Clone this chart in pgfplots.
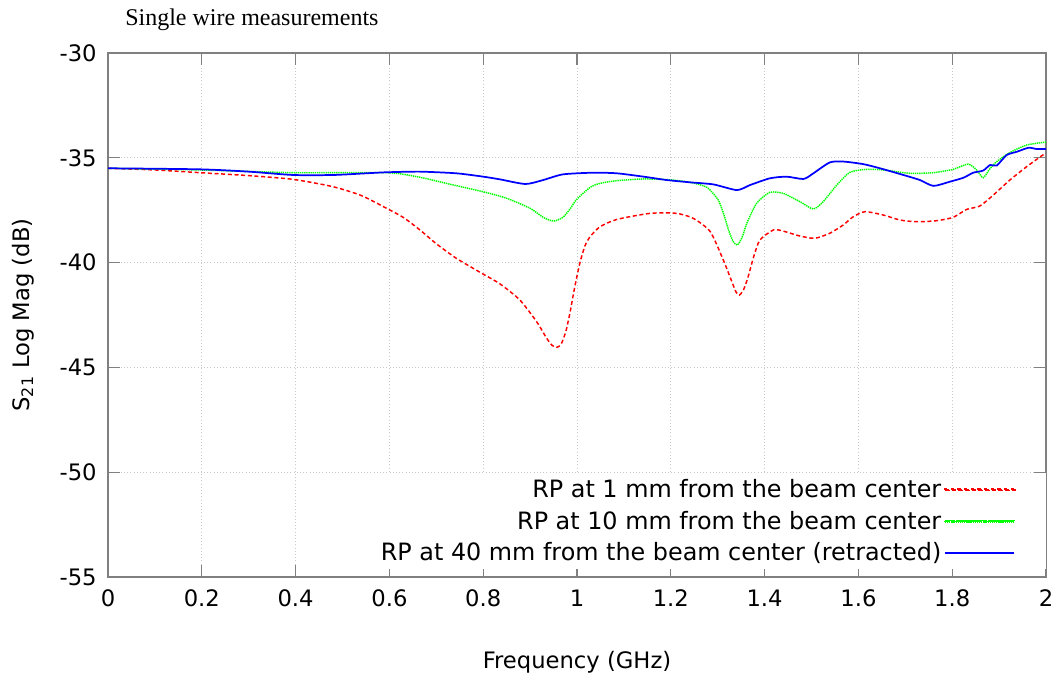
\documentclass[border=0pt]{standalone}
\usepackage{fontspec}
\setmainfont{DejaVu Sans}
\newfontfamily\titlefont{Liberation Serif}
\usepackage{pgfplots}
\pgfplotsset{compat=1.18}

\pgfplotstableread{
x y
0 -35.5
0.1 -35.58
0.196 -35.71
0.3 -35.85
0.395 -36.03
0.48 -36.38
0.54 -36.8
0.594 -37.41
0.63 -37.85
0.665 -38.44
0.7 -39.1
0.743 -39.8
0.797 -40.51
0.836 -41.02
0.878 -41.78
0.914 -42.82
0.935 -43.6
0.947 -43.95
0.957 -44.04
0.966 -43.9
0.976 -43.3
0.985 -42.4
0.994 -41.3
1.006 -40.03
1.017 -39.2
1.028 -38.76
1.049 -38.29
1.085 -37.94
1.156 -37.65
1.212 -37.65
1.248 -37.89
1.284 -38.52
1.312 -39.88
1.33 -40.9
1.339 -41.4
1.346 -41.55
1.355 -41.3
1.365 -40.67
1.377 -39.7
1.39 -38.92
1.419 -38.44
1.44 -38.5
1.475 -38.73
1.507 -38.84
1.539 -38.6
1.568 -38.2
1.589 -37.81
1.614 -37.57
1.653 -37.73
1.689 -37.97
1.724 -38.05
1.767 -38.0
1.802 -37.84
1.831 -37.46
1.859 -37.3
1.888 -36.77
1.923 -36.06
1.959 -35.42
1.993 -34.87
2 -34.8
}\redtab

\pgfplotstableread{
x y
0 -35.5
0.196 -35.58
0.395 -35.71
0.594 -35.71
0.665 -35.93
0.729 -36.26
0.8 -36.62
0.85 -36.93
0.9 -37.41
0.928 -37.84
0.95 -38.02
0.97 -37.84
0.985 -37.45
0.999 -36.99
1.028 -36.41
1.049 -36.22
1.085 -36.09
1.142 -36.01
1.198 -36.05
1.241 -36.17
1.277 -36.41
1.301 -37.01
1.313 -37.7
1.323 -38.44
1.333 -39.0
1.342 -39.16
1.352 -38.8
1.362 -38.13
1.383 -37.17
1.411 -36.65
1.44 -36.7
1.475 -37.09
1.504 -37.44
1.525 -37.09
1.554 -36.3
1.582 -35.69
1.618 -35.55
1.653 -35.58
1.71 -35.74
1.76 -35.71
1.802 -35.55
1.834 -35.3
1.852 -35.58
1.866 -35.95
1.881 -35.5
1.895 -35.18
1.923 -34.75
1.959 -34.39
2 -34.25
}\greentab

\pgfplotstableread{
x y
0 -35.5
0.196 -35.55
0.3 -35.66
0.395 -35.82
0.48 -35.82
0.55 -35.74
0.594 -35.69
0.665 -35.66
0.743 -35.74
0.8 -35.9
0.836 -36.03
0.89 -36.25
0.928 -36.06
0.97 -35.79
1.035 -35.71
1.085 -35.74
1.142 -35.9
1.191 -36.06
1.241 -36.17
1.291 -36.27
1.341 -36.54
1.369 -36.3
1.411 -35.98
1.447 -35.9
1.483 -36.01
1.504 -35.74
1.539 -35.22
1.568 -35.18
1.61 -35.3
1.646 -35.5
1.696 -35.82
1.731 -36.06
1.76 -36.34
1.795 -36.14
1.824 -35.95
1.845 -35.71
1.866 -35.61
1.881 -35.34
1.895 -35.37
1.916 -34.87
1.938 -34.71
1.963 -34.52
1.98 -34.58
2 -34.58
}\bluetab

\definecolor{framegray}{RGB}{128,128,128}
\definecolor{gridgray}{RGB}{200,200,200}
\definecolor{cred}{RGB}{255,0,0}
\definecolor{cgreen}{RGB}{0,255,0}
\definecolor{cblue}{RGB}{0,0,255}

\begin{document}
\begin{tikzpicture}
\useasboundingbox (0,0) rectangle (795pt,509.25pt);
\node[anchor=base west, font=\titlefont\fontsize{18}{21}\selectfont, inner sep=0pt] at (93.75pt,490pt) {Single wire measurements};
\begin{axis}[
  at={(81pt,76.5pt)}, anchor=south west,
  scale only axis, width=703.5pt, height=393pt,
  xmin=0, xmax=2, ymin=-55, ymax=-30,
  xtick={0,0.2,...,2.01}, ytick={-55,-50,...,-30},
  xticklabels={0,0.2,0.4,0.6,0.8,1,1.2,1.4,1.6,1.8,2},
  /pgf/number format/assume math mode=true,
  tick label style={font=\fontsize{17}{20}\selectfont},
  label style={font=\fontsize{17}{20}\selectfont},
  axis line style={framegray, line width=0.8pt},
  tick style={framegray, line width=0.8pt},
  major tick length=9pt,
  tick align=inside,
  grid=major,
  major grid style={gridgray, dotted, line width=0.6pt},
  xlabel={Frequency (GHz)},
  ylabel={S\textsubscript{21} Log Mag (dB)},
  xlabel style={at={(0.5,0)}, anchor=north, yshift=-52pt},
  ylabel style={at={(0,0.5)}, anchor=south, yshift=52pt},
  xticklabel style={yshift=-6pt},
  yticklabel style={xshift=-5pt},
  legend plot pos=right,
  legend cell align=right,
  legend style={at={(1,0.014)}, anchor=south east, fill=white, draw=none,
    font=\fontsize{17.9}{21}\selectfont, inner xsep=14pt, inner ysep=3pt,
    row sep=4.5pt},
]
\addplot[color=cred, line width=1.1pt, dash pattern=on 3pt off 2pt, smooth, tension=0.4,
  legend image code/.code={\pgfsetfillcolor{cred}\foreach \i in {0,...,10}{\fill[cred] ({7pt+\i*5pt},-0.55pt) rectangle ++(3pt,1.1pt);} \path (68pt,0pt);}] table[x=x,y=y] {\redtab};
\addlegendentry{RP at 1 mm from the beam center}
\addplot[color=cgreen, line width=1.1pt, dash pattern=on 1pt off 0.6pt, smooth, tension=0.4,
  legend image code/.code={\pgfsetfillcolor{cgreen}\foreach \i in {0,...,32}{\fill[cgreen] ({7pt+\i*1.6pt},-0.55pt) rectangle ++(1pt,1.1pt);} \path (68pt,0pt);}] table[x=x,y=y] {\greentab};
\addlegendentry{RP at 10 mm from the beam center}
\addplot[color=cblue, line width=1.3pt, smooth, tension=0.4,
  legend image code/.code={\draw[draw=cblue, line width=1.3pt] (7pt,0pt) -- (59pt,0pt); \path (68pt,0pt);}] table[x=x,y=y] {\bluetab};
\addlegendentry{RP at 40 mm from the beam center (retracted)}
\end{axis}
\end{tikzpicture}
\end{document}
